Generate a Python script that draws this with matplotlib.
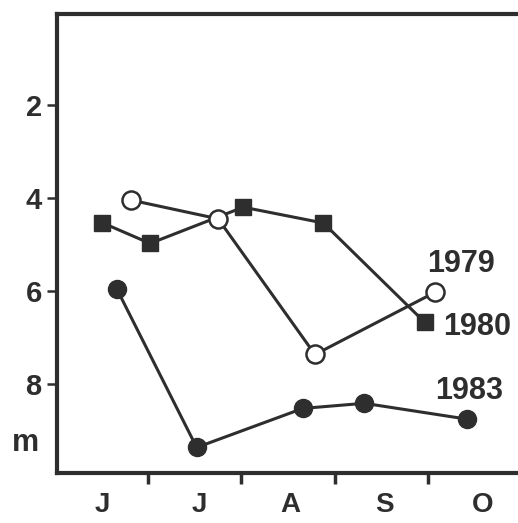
import numpy as np
import matplotlib.pyplot as plt

plt.rcParams["font.family"] = ["Liberation Sans", "DejaVu Sans"]

# x is in months counted from 1 June (1 = 1 July, 2 = 1 Aug, ...), y is depth in m
x_1979 = [0.82, 1.75, 2.79, 4.08]
d_1979 = [4.04, 4.44, 7.36, 6.02]

x_1980 = [0.50, 1.02, 2.02, 2.88, 3.97]
d_1980 = [4.52, 4.97, 4.19, 4.53, 6.67]

x_1983 = [0.66, 1.52, 2.66, 3.32, 4.42]
d_1983 = [5.94, 9.36, 8.52, 8.41, 8.75]

month_labels = ["J", "J", "A", "S", "O"]
month_centres = [0.51, 1.55, 2.52, 3.54, 4.59]
month_edges = [1, 2, 3, 4]
depth_ticks = [2, 4, 6, 8]

ink = "#2e2e2e"

fig = plt.figure(figsize=(5.18, 5.23), dpi=100)
ax = fig.add_axes([0.110, 0.0956, 0.89, 0.877])

ax.plot(x_1980, d_1980, color=ink, lw=2.2, marker="s", ms=11,
        mfc=ink, mec=ink, zorder=3)
ax.plot(x_1979, d_1979, color=ink, lw=2.2, marker="o", ms=13,
        mfc="white", mec=ink, mew=1.8, zorder=4)
ax.plot(x_1983, d_1983, color=ink, lw=2.2, marker="o", ms=13,
        mfc=ink, mec=ink, zorder=3)

# year labels next to the curves
tkw = dict(fontsize=22, fontweight="bold", color=ink)
ax.text(4.36, 5.42, "1979", ha="center", va="center", **tkw)
ax.text(4.53, 6.77, "1980", ha="center", va="center", **tkw)
ax.text(4.45, 8.15, "1983", ha="center", va="center", **tkw)

ax.set_xlim(0.02, 4.97)
ax.set_ylim(9.91, 0.04)

ax.spines["right"].set_visible(False)
for s in ["left", "top", "bottom"]:
    ax.spines[s].set_linewidth(3)
    ax.spines[s].set_color(ink)

ax.set_yticks(depth_ticks)
ax.set_yticklabels([str(t) for t in depth_ticks])
ax.tick_params(axis="y", direction="out", length=7, width=1.8, pad=4,
               labelsize=21, colors=ink)
for lab in ax.get_yticklabels():
    lab.set_fontweight("bold")

ax.set_xticks(month_edges)
ax.set_xticklabels([])
ax.tick_params(axis="x", which="major", direction="out", length=8, width=2.5,
               colors=ink)
ax.set_xticks(month_centres, minor=True)
ax.set_xticklabels(month_labels, minor=True)
ax.tick_params(axis="x", which="minor", length=0, pad=14, labelsize=20,
               colors=ink)
for lab in ax.get_xticklabels(minor=True):
    lab.set_fontweight("bold")

ax.text(-0.32, 9.27, "m", ha="center", va="center", clip_on=False, **tkw)

fig.savefig("out.png", dpi=100)
